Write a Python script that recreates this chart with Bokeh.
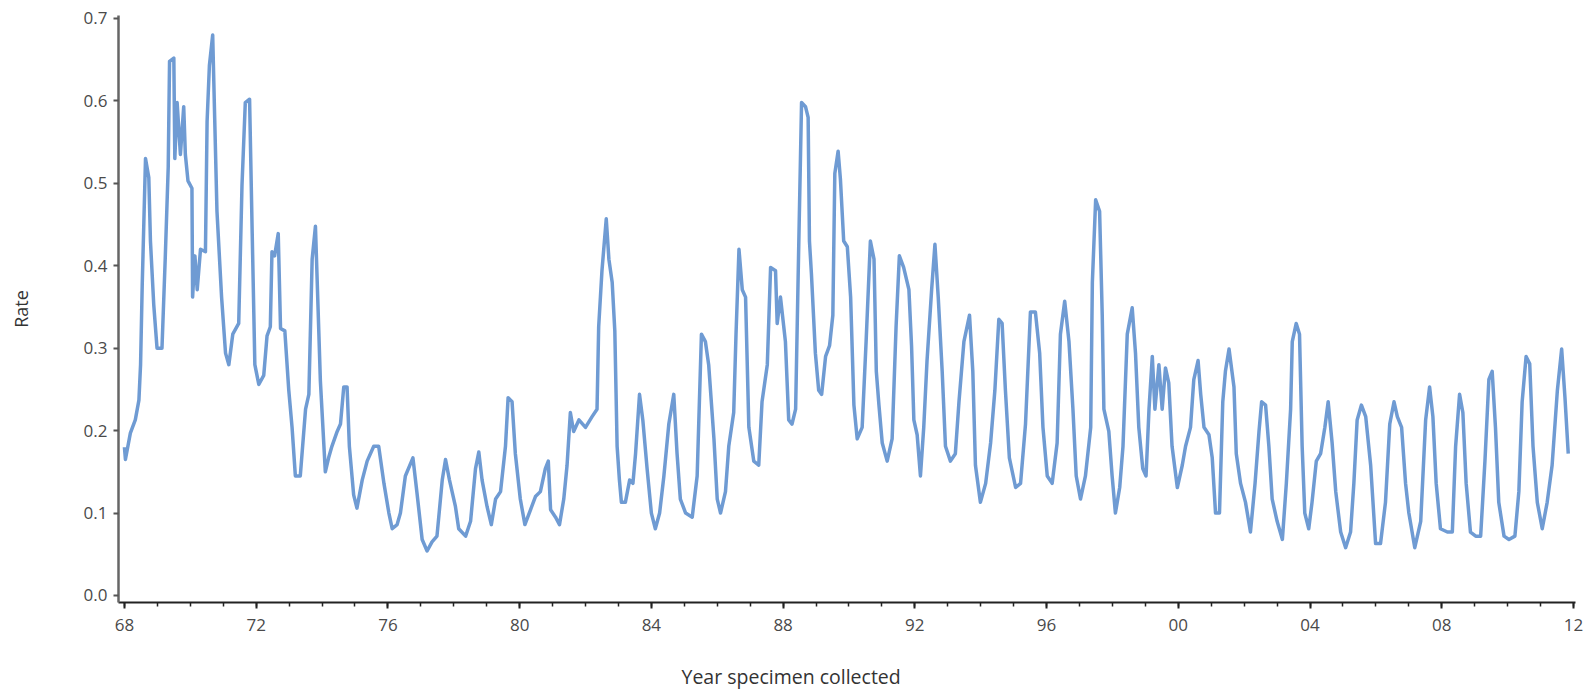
from bokeh.plotting import figure
from bokeh.models import FixedTicker, Range1d, Title, NumeralTickFormatter, LinearAxis
from bokeh.embed import file_html
from bokeh.resources import INLINE

year = [
    1968.00, 1968.03, 1968.18, 1968.33, 1968.44, 1968.49, 1968.54, 1968.59, 1968.64, 1968.74,
    1968.79, 1968.89, 1968.99, 1969.14, 1969.24, 1969.33, 1969.37, 1969.50, 1969.53, 1969.60,
    1969.70, 1969.80, 1969.85, 1969.93, 1970.05, 1970.07, 1970.14, 1970.21, 1970.31, 1970.46,
    1970.51, 1970.58, 1970.68, 1970.74, 1970.81, 1970.95, 1971.07, 1971.17, 1971.29, 1971.47,
    1971.57, 1971.67, 1971.80, 1971.88, 1971.96, 1972.08, 1972.23, 1972.33, 1972.43, 1972.48,
    1972.56, 1972.67, 1972.74, 1972.87, 1972.99, 1973.09, 1973.19, 1973.34, 1973.50, 1973.60,
    1973.70, 1973.80, 1973.95, 1974.10, 1974.20, 1974.30, 1974.46, 1974.56, 1974.66, 1974.76,
    1974.83, 1974.96, 1975.06, 1975.22, 1975.37, 1975.57, 1975.72, 1975.88, 1976.03, 1976.13,
    1976.28, 1976.38, 1976.53, 1976.76, 1976.89, 1977.04, 1977.19, 1977.34, 1977.49, 1977.65,
    1977.75, 1977.87, 1978.05, 1978.15, 1978.36, 1978.51, 1978.66, 1978.76, 1978.86, 1979.01,
    1979.14, 1979.27, 1979.42, 1979.57, 1979.65, 1979.77, 1979.87, 1980.02, 1980.16, 1980.33,
    1980.48, 1980.63, 1980.78, 1980.87, 1980.94, 1981.09, 1981.21, 1981.34, 1981.44, 1981.54,
    1981.64, 1981.80, 1982.00, 1982.20, 1982.35, 1982.40, 1982.50, 1982.63, 1982.71, 1982.81,
    1982.89, 1982.96, 1983.03, 1983.09, 1983.21, 1983.34, 1983.44, 1983.52, 1983.64, 1983.74,
    1983.87, 1984.00, 1984.12, 1984.25, 1984.38, 1984.53, 1984.68, 1984.78, 1984.88, 1985.04,
    1985.24, 1985.39, 1985.52, 1985.64, 1985.74, 1985.90, 1986.00, 1986.10, 1986.25, 1986.35,
    1986.50, 1986.57, 1986.66, 1986.76, 1986.86, 1986.96, 1987.11, 1987.26, 1987.36, 1987.52,
    1987.62, 1987.77, 1987.82, 1987.92, 1988.02, 1988.07, 1988.17, 1988.27, 1988.38, 1988.46,
    1988.56, 1988.68, 1988.76, 1988.80, 1988.86, 1988.98, 1989.08, 1989.17, 1989.29, 1989.41,
    1989.51, 1989.57, 1989.67, 1989.74, 1989.84, 1989.95, 1990.05, 1990.15, 1990.25, 1990.40,
    1990.52, 1990.65, 1990.76, 1990.83, 1990.91, 1991.01, 1991.16, 1991.31, 1991.43, 1991.53,
    1991.66, 1991.82, 1991.90, 1991.97, 1992.07, 1992.17, 1992.27, 1992.37, 1992.51, 1992.61,
    1992.71, 1992.83, 1992.93, 1993.08, 1993.23, 1993.34, 1993.49, 1993.66, 1993.76, 1993.84,
    1993.99, 1994.15, 1994.30, 1994.43, 1994.55, 1994.65, 1994.75, 1994.87, 1995.06, 1995.21,
    1995.36, 1995.51, 1995.66, 1995.79, 1995.89, 1996.02, 1996.17, 1996.32, 1996.42, 1996.55,
    1996.68, 1996.80, 1996.90, 1997.03, 1997.18, 1997.34, 1997.39, 1997.49, 1997.61, 1997.69,
    1997.74, 1997.89, 1997.99, 1998.09, 1998.22, 1998.32, 1998.45, 1998.60, 1998.70, 1998.80,
    1998.92, 1999.02, 1999.11, 1999.21, 1999.29, 1999.41, 1999.51, 1999.61, 1999.71, 1999.81,
    1999.97, 2000.12, 2000.22, 2000.37, 2000.47, 2000.60, 2000.68, 2000.78, 2000.93, 2001.03,
    2001.13, 2001.25, 2001.35, 2001.43, 2001.54, 2001.69, 2001.76, 2001.89, 2002.04, 2002.19,
    2002.33, 2002.45, 2002.53, 2002.65, 2002.75, 2002.85, 2003.00, 2003.16, 2003.28, 2003.41,
    2003.46, 2003.58, 2003.68, 2003.76, 2003.84, 2003.96, 2004.06, 2004.19, 2004.32, 2004.45,
    2004.55, 2004.67, 2004.78, 2004.93, 2005.08, 2005.23, 2005.33, 2005.43, 2005.56, 2005.69,
    2005.84, 2005.99, 2006.14, 2006.29, 2006.42, 2006.55, 2006.65, 2006.78, 2006.90, 2007.00,
    2007.18, 2007.36, 2007.51, 2007.63, 2007.73, 2007.83, 2007.96, 2008.17, 2008.32, 2008.42,
    2008.54, 2008.64, 2008.74, 2008.87, 2009.03, 2009.18, 2009.31, 2009.43, 2009.53, 2009.63,
    2009.73, 2009.89, 2010.04, 2010.22, 2010.34, 2010.44, 2010.56, 2010.67, 2010.77, 2010.90,
    2011.05, 2011.20, 2011.35, 2011.51, 2011.64, 2011.74, 2011.84,
]

rate = [
    0.180, 0.165, 0.197, 0.213, 0.237, 0.280, 0.376, 0.453, 0.530, 0.507,
    0.430, 0.353, 0.300, 0.300, 0.410, 0.520, 0.648, 0.652, 0.530, 0.598,
    0.535, 0.593, 0.535, 0.503, 0.494, 0.362, 0.412, 0.371, 0.420, 0.417,
    0.575, 0.643, 0.680, 0.580, 0.466, 0.362, 0.294, 0.280, 0.317, 0.330,
    0.498, 0.598, 0.602, 0.439, 0.280, 0.256, 0.267, 0.315, 0.326, 0.417,
    0.412, 0.439, 0.324, 0.321, 0.249, 0.204, 0.145, 0.145, 0.226, 0.244,
    0.408, 0.448, 0.260, 0.150, 0.167, 0.181, 0.199, 0.208, 0.253, 0.253,
    0.181, 0.122, 0.106, 0.140, 0.163, 0.181, 0.181, 0.136, 0.100, 0.081,
    0.086, 0.100, 0.145, 0.167, 0.122, 0.068, 0.054, 0.065, 0.072, 0.140,
    0.165, 0.140, 0.108, 0.081, 0.072, 0.090, 0.154, 0.174, 0.140, 0.108,
    0.086, 0.117, 0.126, 0.181, 0.240, 0.235, 0.172, 0.117, 0.086, 0.104,
    0.120, 0.126, 0.154, 0.163, 0.104, 0.095, 0.086, 0.117, 0.158, 0.222,
    0.199, 0.213, 0.204, 0.217, 0.226, 0.326, 0.394, 0.457, 0.408, 0.380,
    0.321, 0.181, 0.140, 0.113, 0.113, 0.140, 0.136, 0.172, 0.244, 0.213,
    0.154, 0.100, 0.081, 0.100, 0.145, 0.208, 0.244, 0.172, 0.117, 0.100,
    0.095, 0.145, 0.317, 0.308, 0.280, 0.190, 0.117, 0.100, 0.126, 0.181,
    0.222, 0.317, 0.420, 0.371, 0.362, 0.204, 0.163, 0.158, 0.235, 0.280,
    0.398, 0.394, 0.330, 0.362, 0.326, 0.308, 0.213, 0.208, 0.226, 0.394,
    0.598, 0.593, 0.580, 0.430, 0.390, 0.294, 0.249, 0.244, 0.290, 0.303,
    0.340, 0.512, 0.539, 0.505, 0.430, 0.423, 0.362, 0.231, 0.190, 0.204,
    0.308, 0.430, 0.408, 0.272, 0.231, 0.185, 0.163, 0.190, 0.326, 0.412,
    0.398, 0.371, 0.303, 0.213, 0.195, 0.145, 0.204, 0.285, 0.371, 0.426,
    0.362, 0.272, 0.181, 0.163, 0.172, 0.235, 0.308, 0.340, 0.272, 0.158,
    0.113, 0.136, 0.185, 0.249, 0.335, 0.330, 0.249, 0.167, 0.131, 0.136,
    0.208, 0.344, 0.344, 0.294, 0.204, 0.145, 0.136, 0.185, 0.317, 0.357,
    0.308, 0.226, 0.145, 0.117, 0.145, 0.204, 0.380, 0.480, 0.466, 0.340,
    0.226, 0.199, 0.145, 0.100, 0.131, 0.181, 0.317, 0.349, 0.294, 0.204,
    0.154, 0.145, 0.226, 0.290, 0.226, 0.280, 0.226, 0.276, 0.258, 0.181,
    0.131, 0.158, 0.181, 0.204, 0.262, 0.285, 0.244, 0.204, 0.195, 0.167,
    0.100, 0.100, 0.235, 0.272, 0.299, 0.253, 0.172, 0.136, 0.113, 0.077,
    0.136, 0.199, 0.235, 0.231, 0.181, 0.117, 0.090, 0.068, 0.136, 0.226,
    0.308, 0.330, 0.317, 0.181, 0.100, 0.081, 0.113, 0.163, 0.172, 0.204,
    0.235, 0.185, 0.126, 0.077, 0.058, 0.077, 0.136, 0.213, 0.231, 0.217,
    0.158, 0.063, 0.063, 0.113, 0.208, 0.235, 0.217, 0.204, 0.136, 0.100,
    0.058, 0.090, 0.213, 0.253, 0.217, 0.136, 0.081, 0.077, 0.077, 0.181,
    0.244, 0.222, 0.136, 0.077, 0.072, 0.072, 0.163, 0.262, 0.272, 0.204,
    0.113, 0.072, 0.068, 0.072, 0.126, 0.235, 0.290, 0.281, 0.181, 0.113,
    0.081, 0.113, 0.158, 0.249, 0.299, 0.240, 0.172,
]

x_tick_years = [1968, 1972, 1976, 1980, 1984, 1988, 1992, 1996, 2000, 2004, 2008, 2012]
x_tick_labels = ["68", "72", "76", "80", "84", "88", "92", "96", "00", "04", "08", "12"]
x_minor_years = list(range(1968, 2013))
y_ticks = [0.0, 0.1, 0.2, 0.3, 0.4, 0.5, 0.6, 0.7]

FONT = "Open Sans"

p = figure(width=1591, height=697, output_backend="svg", toolbar_location=None,
           x_range=Range1d(1967.82, 2012.06), y_range=Range1d(-0.0085, 0.7036),
           min_border_left=118, min_border_right=16, min_border_top=15, min_border_bottom=95)
p.outline_line_color = None
p.xgrid.visible = False
p.ygrid.visible = False
p.background_fill_color = "white"
p.border_fill_color = "white"

p.line(year, rate, line_color="#6f9bd3", line_width=3.5, line_join="round")

xa = p.xaxis[0]
xa.ticker = FixedTicker(ticks=x_tick_years, minor_ticks=x_minor_years)
xa.major_label_overrides = {t: l for t, l in zip(x_tick_years, x_tick_labels)}
xa.axis_line_color = "#222222"
xa.axis_line_width = 2
xa.major_tick_line_color = "#222222"
xa.minor_tick_line_color = "#222222"
xa.major_tick_line_width = 2
xa.minor_tick_line_width = 1.5
xa.major_tick_in = 0
xa.major_tick_out = 6
xa.minor_tick_in = 0
xa.minor_tick_out = 4
xa.major_label_standoff = 10
xa.major_label_text_font = FONT
xa.major_label_text_font_size = "17px"
xa.major_label_text_color = "#4a4a4a"

ya = p.yaxis[0]
ya.ticker = FixedTicker(ticks=y_ticks, minor_ticks=[])
ya.formatter = NumeralTickFormatter(format="0.0")
ya.axis_line_color = "#666666"
ya.axis_line_width = 2.5
ya.major_tick_line_color = "#555555"
ya.major_tick_line_width = 2
ya.major_tick_in = 0
ya.major_tick_out = 5
ya.major_label_standoff = 6
ya.major_label_text_font = FONT
ya.major_label_text_font_size = "17px"
ya.major_label_text_color = "#4a4a4a"
ya.axis_label = "Rate"
ya.axis_label_text_font = FONT
ya.axis_label_text_font_size = "18px"
ya.axis_label_text_font_style = "normal"
ya.axis_label_text_color = "#333333"
ya.axis_label_standoff = 48

# blank spacer panel (white tick, empty label) between the tick labels and the x title
spacer = LinearAxis(ticker=FixedTicker(ticks=[1990], minor_ticks=[]), axis_line_color=None,
                    major_tick_line_color="white", minor_tick_line_color=None,
                    major_tick_in=0, major_tick_out=20, minor_tick_in=0, minor_tick_out=0,
                    major_label_standoff=0, major_label_overrides={1990: ""})
p.add_layout(spacer, "below")

xtitle = Title(text="Year specimen collected", align="left", offset=563,
               standoff=14, text_font=FONT, text_font_size="19.5px",
               text_font_style="normal", text_color="#333333")
p.add_layout(xtitle, "below")

open("out.html", "w").write(file_html(p, INLINE))
